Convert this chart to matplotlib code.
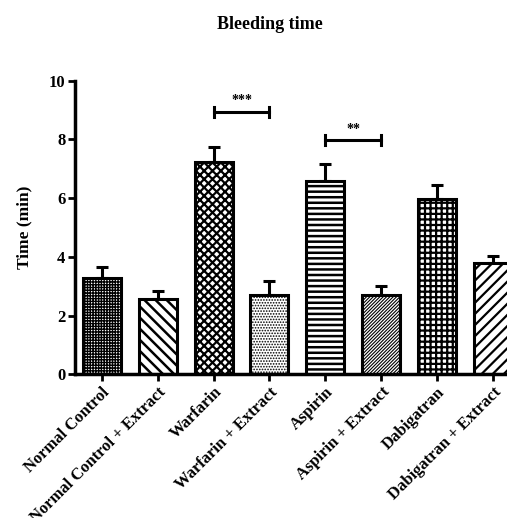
import matplotlib
matplotlib.use("Agg")
import matplotlib.pyplot as plt
import numpy as np

categories = ["Normal Control", "Normal Control + Extract", "Warfarin", "Warfarin + Extract",
              "Aspirin", "Aspirin + Extract", "Dabigatran", "Dabigatran + Extract"]
means = [3.29, 2.56, 7.24, 2.71, 6.59, 2.70, 5.96, 3.80]
errors = [0.35, 0.27, 0.49, 0.47, 0.56, 0.31, 0.49, 0.23]
hatches = ["++++++", "\\\\\\", "xxxx", "......", "---", "//////////", "+++", "///"]
hatch_lw = [1.0, 1.8, 1.6, 0.8, 1.8, 0.8, 1.6, 1.6]
sig_pairs = [(2, 3, 8.94, "***"), (4, 5, 7.98, "**")]
yticks = [0, 2, 4, 6, 8, 10]

plt.rcParams['font.family'] = ['Liberation Serif', 'DejaVu Serif']
plt.rcParams['font.weight'] = 'bold'
plt.rcParams['hatch.linewidth'] = 1.5

fig = plt.figure(figsize=(5.07, 5.18), dpi=100)
ax = fig.add_axes([0.148, 0.2774, 0.877, 0.5668])

x = np.arange(len(categories))
for i in range(len(categories)):
    bars = ax.bar(x[i], means[i], width=0.68, color='white', edgecolor='black',
                  linewidth=2.2, hatch=hatches[i], zorder=2)
    for p in bars:
        if hasattr(p, 'set_hatch_linewidth'):
            p.set_hatch_linewidth(hatch_lw[i])
ax.errorbar(x, means, yerr=[np.zeros(len(means)), errors], fmt='none',
            ecolor='black', elinewidth=2.2, capsize=4.5, capthick=2.2, zorder=1)

for a, b, y, s in sig_pairs:
    ax.plot([a, b], [y, y], color='black', lw=2.2, clip_on=False)
    ax.plot([a, a], [y - 0.17, y + 0.17], color='black', lw=2.2)
    ax.plot([b, b], [y - 0.17, y + 0.17], color='black', lw=2.2)
    ax.text((a + b) / 2, y + 0.15, s, ha='center', va='bottom', fontsize=10, fontweight='bold')

ax.set_xlim(-0.48, 7.48)
ax.set_ylim(0, 10)
ax.set_yticks(yticks)
ax.set_xticks(x)
ax.set_xticklabels(categories, rotation=45, ha='right', rotation_mode='anchor',
                   fontsize=10.8, fontweight='bold')
ax.tick_params(axis='both', direction='out', length=5, width=2, labelsize=12, pad=2)
for lbl in ax.get_yticklabels():
    lbl.set_fontweight('bold')
ax.spines['top'].set_visible(False)
ax.spines['right'].set_visible(False)
ax.spines['left'].set_linewidth(2.5)
ax.spines['bottom'].set_linewidth(2.5)
ax.set_ylabel("Time (min)", fontsize=12.5, fontweight='bold', labelpad=12)
fig.text(0.5316, 0.952, "Bleeding time", ha='center', va='center', fontsize=13, fontweight='bold')

fig.savefig("out.png", dpi=100)
